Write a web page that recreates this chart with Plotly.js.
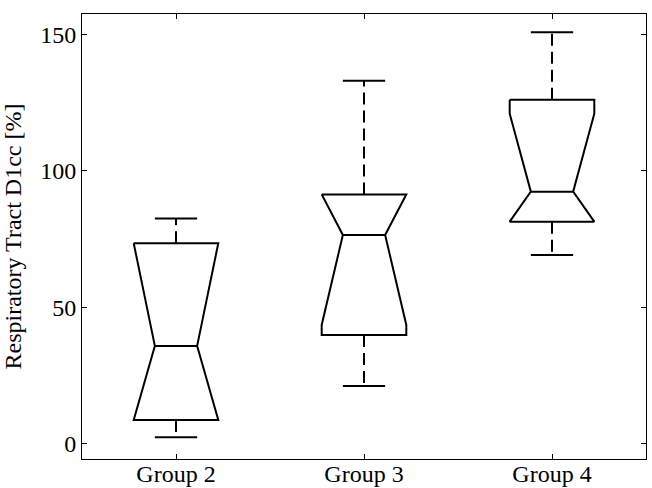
<!DOCTYPE html>
<html>
<head>
<meta charset="utf-8">
<script src="https://cdn.plot.ly/plotly-3.0.1.min.js"></script>
<style>html,body{margin:0;padding:0;background:#fff;}#chart{width:652px;height:488px;}</style>
</head>
<body>
<div id="chart"></div>
<script>
// Data
var categories = ['Group 2', 'Group 3', 'Group 4'];
var positions = [1, 2, 3];
var lowerWhisker = [2.3, 21.1, 69.2];
var q1 = [8.6, 39.8, 81.4];
var median = [35.8, 76.5, 92.4];
var q3 = [73.5, 91.4, 126.1];
var upperWhisker = [82.6, 133.1, 150.9];
var notchHalf = [41.6, 33.0, 28.6];

var traces = [];
var boxHalf = 0.225;
var notchIn = boxHalf * 0.5;
var lineStyle = {color: '#000', width: 2};
for (var i = 0; i < categories.length; i++) {
  var x = positions[i];
  var lo = Math.max(median[i] - notchHalf[i], q1[i]);
  var hi = Math.min(median[i] + notchHalf[i], q3[i]);
  // whiskers (dashed)
  traces.push({
    type: 'scatter', mode: 'lines', hoverinfo: 'skip', showlegend: false,
    x: [x, x, null, x, x],
    y: [q3[i], upperWhisker[i], null, q1[i], lowerWhisker[i]],
    line: {color: '#000', width: 2, dash: '12px,6px'}
  });
  // whisker caps
  traces.push({
    type: 'scatter', mode: 'lines', hoverinfo: 'skip', showlegend: false,
    x: [x - notchIn, x + notchIn, null, x - notchIn, x + notchIn],
    y: [upperWhisker[i], upperWhisker[i], null, lowerWhisker[i], lowerWhisker[i]],
    line: lineStyle
  });
  // notched box outline
  traces.push({
    type: 'scatter', mode: 'lines', name: categories[i], showlegend: false,
    x: [x - boxHalf, x + boxHalf, x + boxHalf, x + notchIn, x + boxHalf, x + boxHalf, x - boxHalf, x - boxHalf, x - notchIn, x - boxHalf, x - boxHalf],
    y: [q3[i], q3[i], hi, median[i], lo, q1[i], q1[i], lo, median[i], hi, q3[i]],
    line: {color: '#000', width: 2, shape: 'linear'}
  });
  // median line
  traces.push({
    type: 'scatter', mode: 'lines', hoverinfo: 'skip', showlegend: false,
    x: [x - notchIn, x + notchIn],
    y: [median[i], median[i]],
    line: lineStyle
  });
}

var fontFam = '"Liberation Serif", "Times New Roman", serif';
var layout = {
  width: 652, height: 488,
  margin: {l: 82, r: 6, t: 14, b: 29, pad: 0},
  paper_bgcolor: '#fff', plot_bgcolor: '#fff',
  font: {family: fontFam, size: 24, color: '#000'},
  showlegend: false,
  xaxis: {
    range: [0.5, 3.5], tickvals: positions, ticktext: categories,
    ticks: 'inside', ticklen: 5, tickwidth: 1, tickcolor: '#000',
    showline: true, linecolor: '#000', linewidth: 1, mirror: 'allticks',
    showgrid: false, zeroline: false, ticklabelstandoff: -7,
    tickfont: {family: fontFam, size: 24, color: '#000'}
  },
  yaxis: {
    range: [-5.7, 157.6], tickvals: [0, 50, 100, 150],
    ticks: 'inside', ticklen: 5, tickwidth: 1, tickcolor: '#000',
    showline: true, linecolor: '#000', linewidth: 1, mirror: 'allticks',
    showgrid: false, zeroline: false,
    tickfont: {family: fontFam, size: 24, color: '#000'},
    title: {text: 'Respiratory Tract D1cc [%]', font: {family: fontFam, size: 24, color: '#000'}, standoff: 12}
  }
};
Plotly.newPlot('chart', traces, layout, {displayModeBar: false, staticPlot: true});
</script>
</body>
</html>
